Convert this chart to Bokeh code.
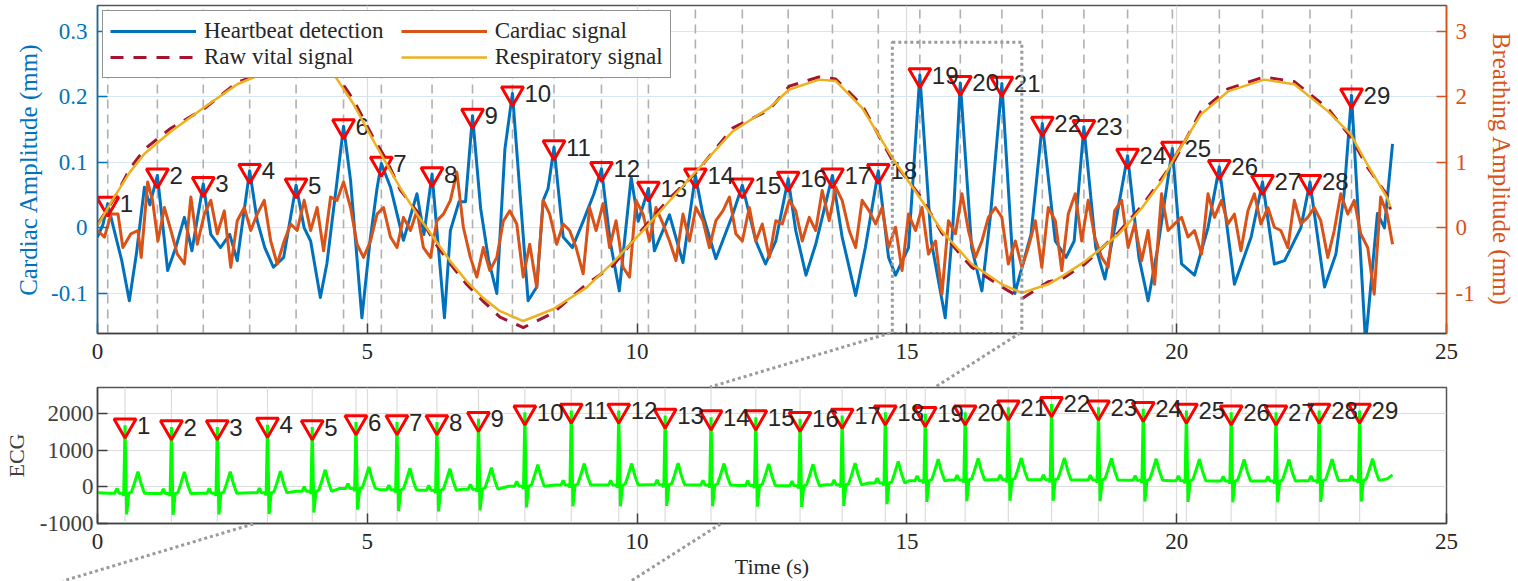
import numpy as np
from bokeh.plotting import figure
from bokeh.models import Range1d, LinearAxis, FixedTicker, Legend, LegendItem, Div
from bokeh.layouts import column
from bokeh.embed import file_html
from bokeh.resources import INLINE
from bokeh.core.properties import value

# ------------------------------------------------------------------ data
x_ticks = [0, 5, 10, 15, 20, 25]
card_ticks = [-0.1, 0, 0.1, 0.2, 0.3]
breath_ticks = [-1, 0, 1, 2, 3]
ecg_ticks = [-1000, 0, 1000, 2000]

# heartbeat detection (blue, left axis, mm)
hb_t = [0.00, 0.10, 0.19, 0.31, 0.45, 0.59, 0.72, 0.87, 0.97, 1.11, 1.30, 1.45, 1.61, 1.75,
        1.96, 2.10, 2.28, 2.45, 2.59, 2.82, 2.96, 3.10, 3.26, 3.45, 3.68, 3.83, 3.95, 4.13,
        4.25, 4.44, 4.56, 4.69, 4.90, 5.05, 5.18, 5.26, 5.43, 5.67, 5.92, 6.05, 6.20, 6.43,
        6.54, 6.70, 6.82, 6.95, 7.10, 7.25, 7.40, 7.55, 7.69, 7.98, 8.14, 8.26, 8.35, 8.46,
        8.63, 8.80, 9.00, 9.20, 9.34, 9.50, 9.67, 9.89, 10.02, 10.21, 10.32, 10.60, 10.85,
        11.08, 11.22, 11.46, 11.77, 11.95, 12.20, 12.38, 12.57, 12.80, 12.94, 13.13, 13.31,
        13.62, 13.80, 14.05, 14.23, 14.47, 14.66, 14.79, 15.03, 15.24, 15.45, 15.71, 15.85,
        15.99, 16.20, 16.39, 16.55, 16.76, 17.00, 17.30, 17.51, 17.75, 17.95, 18.10, 18.28,
        18.50, 18.67, 18.85, 19.09, 19.30, 19.47, 19.65, 19.92, 20.09, 20.33, 20.58, 20.79,
        21.07, 21.38, 21.59, 21.81, 22.00, 22.30, 22.47, 22.74, 22.95, 23.10, 23.24, 23.50,
        23.72, 23.85, 24.00]
hb_v = [-0.014, 0.005, 0.037, -0.004, -0.050, -0.111, -0.040, 0.062, 0.035, 0.080, -0.065,
        -0.030, 0.016, -0.035, 0.067, -0.010, -0.030, -0.010, -0.050, 0.087, 0.011, -0.030,
        -0.060, -0.045, 0.065, 0.000, -0.020, -0.106, -0.055, 0.072, 0.155, 0.072, -0.137,
        -0.020, 0.060, 0.098, 0.062, -0.019, 0.052, -0.010, 0.082, -0.137, -0.004, 0.040,
        0.040, 0.171, 0.030, -0.050, -0.100, 0.120, 0.205, -0.111, -0.090, 0.042, 0.060,
        0.123, -0.014, -0.030, 0.010, 0.052, 0.090, -0.020, -0.096, 0.077, 0.010, 0.060,
        -0.035, 0.020, -0.053, 0.080, 0.020, -0.047, 0.020, 0.065, -0.020, -0.055, -0.020,
        0.075, -0.004, -0.072, -0.025, 0.080, -0.014, -0.103, -0.030, 0.087, -0.045, -0.072,
        -0.030, 0.233, -0.020, -0.137, 0.000, 0.221, -0.030, -0.096, 0.020, 0.220, -0.100,
        -0.010, 0.159, -0.020, -0.045, -0.020, 0.154, -0.030, -0.078, 0.000, 0.110, -0.045,
        -0.111, -0.030, 0.121, -0.055, -0.072, 0.000, 0.093, -0.086, -0.014, 0.070, -0.055,
        -0.050, 0.000, 0.070, -0.090, -0.040, 0.050, 0.202, -0.175, 0.022, 0.000, 0.128]

# cardiac signal (orange, left axis, mm)
card_t = [0.00, 0.13, 0.25, 0.38, 0.47, 0.62, 0.75, 0.81, 0.93, 1.02, 1.12, 1.24, 1.36, 1.48,
          1.61, 1.73, 1.85, 1.98, 2.10, 2.22, 2.35, 2.47, 2.59, 2.72, 2.84, 2.96, 3.09, 3.21,
          3.33, 3.46, 3.58, 3.70, 3.83, 3.95, 4.07, 4.19, 4.32, 4.44, 4.56, 4.69, 4.81, 4.93,
          5.06, 5.18, 5.30, 5.43, 5.55, 5.67, 5.80, 5.92, 6.04, 6.17, 6.29, 6.41, 6.54, 6.66,
          6.78, 6.91, 7.03, 7.15, 7.27, 7.40,
          7.52, 7.64, 7.77, 7.89, 8.01, 8.14, 8.26, 8.38, 8.51, 8.63, 8.75, 8.87, 9.00, 9.12,
          9.24, 9.37, 9.49, 9.61, 9.74, 9.86, 9.98, 10.11, 10.23, 10.35, 10.48, 10.60, 10.72,
          10.85, 10.97, 11.09, 11.22, 11.34, 11.46, 11.59, 11.71, 11.83, 11.95, 12.08, 12.20,
          12.32, 12.45, 12.57, 12.69, 12.82, 12.94, 13.06, 13.19, 13.31, 13.43, 13.56, 13.68,
          13.80, 13.93, 14.05, 14.17, 14.30, 14.42, 14.54, 14.66, 14.79, 14.91, 15.03, 15.16,
          15.28, 15.40, 15.53, 15.65, 15.77, 15.90, 16.02, 16.14, 16.27, 16.39, 16.51, 16.64,
          16.76,
          16.88, 17.01, 17.13, 17.25, 17.38, 17.50, 17.62, 17.75, 17.87, 17.99, 18.12, 18.24,
          18.36, 18.48, 18.61, 18.73, 18.85, 18.98, 19.10, 19.22, 19.35, 19.47, 19.59, 19.72,
          19.84, 19.96, 20.09, 20.21, 20.33, 20.46, 20.58, 20.70, 20.83, 20.95, 21.07, 21.19,
          21.32, 21.44, 21.56, 21.69, 21.81, 21.93, 22.06, 22.18, 22.30, 22.43, 22.55, 22.67,
          22.80, 22.92, 23.04, 23.17, 23.29, 23.41, 23.54, 23.66, 23.78, 23.90, 24.00]
card_v = [-0.004, -0.014, 0.021, 0.021, -0.030, -0.009, -0.004, -0.045, 0.070, 0.042, -0.020,
          0.031, -0.004, -0.040, -0.055, 0.047, -0.025, 0.021, 0.042, -0.009, 0.026, -0.060,
          0.011, 0.031, -0.004, 0.021, 0.042, -0.020, -0.055, -0.020, 0.006, -0.004, 0.042,
          -0.004, 0.031, -0.035, 0.047, 0.042, 0.070, 0.031, -0.025, -0.045, -0.020, 0.021,
          0.031, -0.014, -0.030, 0.016, -0.004, 0.026, -0.030, -0.045, 0.011, 0.021, 0.042,
          0.085, 0.001, -0.045, -0.075, -0.030, -0.065, -0.045,
          0.010, 0.026, 0.006, -0.075, -0.025, -0.091, 0.042, 0.021, -0.025, 0.006, -0.004,
          -0.030, -0.070, 0.031, -0.004, 0.037, -0.030, 0.011, -0.060, -0.075, 0.042, 0.021,
          -0.020, 0.031, 0.006, -0.020, -0.050, 0.021, -0.020, 0.031, 0.011, -0.030, 0.011,
          0.026, 0.047, -0.009, -0.020, 0.031, -0.020, 0.006, -0.045, 0.011, 0.006, 0.042,
          0.026, -0.020, 0.016, -0.004, 0.057, 0.011, 0.062, 0.042, -0.004, -0.030, 0.042,
          0.026, 0.006, 0.031, -0.030, 0.001, -0.065, 0.021, -0.004, 0.031, -0.040, -0.020,
          -0.101, 0.011, -0.009, 0.052, -0.004, -0.045, -0.020, 0.016, 0.031, 0.016,
          -0.055, -0.020, -0.060, -0.030, 0.011, -0.060, 0.031, 0.011, -0.065, 0.021, 0.052,
          -0.020, 0.042, -0.014, -0.045, -0.060, 0.026, 0.042, -0.030, 0.006, -0.050, -0.004,
          -0.086, 0.052, -0.004, 0.006, 0.016, -0.014, -0.004, -0.040, 0.052, 0.016, 0.042,
          0.006, 0.021, -0.035, 0.026, 0.052, 0.006, 0.031, 0.001, -0.004, -0.030, 0.042,
          0.006, 0.016, 0.031, 0.011, -0.045, -0.004, 0.052, 0.021, 0.042, -0.009, -0.030,
          -0.101, 0.047, 0.021, -0.025]

# respiratory (yellow) and raw vital (dashed dark red) signals, right axis, mm
resp_t = [0.00, 0.31, 0.60, 0.87, 1.36, 1.98, 2.59, 3.09, 3.60, 4.00, 4.38, 4.75, 5.12, 5.36,
          5.61, 5.92, 6.23, 6.54, 6.84, 7.15, 7.46, 7.89, 8.44, 9.06, 9.55, 10.10, 10.60, 11.09,
          11.77, 12.45, 12.82, 13.37, 13.68, 14.17, 14.73, 15.28, 15.65, 16.20, 16.76, 17.13,
          17.62, 17.87, 18.30, 18.92, 19.35, 19.72, 19.96, 20.45, 20.95, 21.62, 22.18, 22.80,
          23.23, 23.53, 23.90, 23.96]
resp_v = [0.03, 0.47, 0.85, 1.13, 1.47, 1.84, 2.19, 2.36, 2.48, 2.47, 2.34, 1.88, 1.32, 0.97,
          0.61, 0.21, -0.15, -0.51, -0.81, -1.07, -1.27, -1.42, -1.24, -0.91, -0.53, -0.05,
          0.41, 0.86, 1.47, 1.83, 2.11, 2.26, 2.24, 1.83, 1.07, 0.41, -0.05, -0.55, -0.86,
          -0.99, -0.86, -0.74, -0.51, -0.10, 0.30, 0.71, 1.07, 1.73, 2.08, 2.26, 2.19, 1.78,
          1.42, 0.97, 0.46, 0.32]
raw_v = [0.05, 0.45, 0.90, 1.20, 1.52, 1.82, 2.22, 2.36, 2.50, 2.46, 2.40, 1.94, 1.36, 1.03,
         0.58, 0.25, -0.20, -0.55, -0.86, -1.12, -1.36, -1.52, -1.30, -0.86, -0.58, -0.02,
         0.45, 0.84, 1.52, 1.80, 2.16, 2.30, 2.27, 1.87, 1.03, 0.45, -0.08, -0.60, -0.90,
         -1.08, -0.82, -0.78, -0.55, -0.07, 0.33, 0.75, 1.03, 1.78, 2.12, 2.30, 2.23, 1.82,
         1.38, 0.93, 0.50, 0.28]

# detected heartbeat peaks (top)
peak_t = [0.19, 1.11, 1.96, 2.82, 3.68, 4.56, 5.26, 6.20, 6.95, 7.69, 8.46, 9.34, 10.21, 11.08,
          11.95, 12.80, 13.62, 14.47, 15.24, 15.99, 16.76, 17.51, 18.28, 19.09, 19.92, 20.79,
          21.59, 22.47, 23.24]
peak_v = [0.037, 0.080, 0.067, 0.087, 0.065, 0.155, 0.098, 0.082, 0.171, 0.205, 0.123, 0.090,
          0.060, 0.080, 0.065, 0.075, 0.080, 0.087, 0.233, 0.221, 0.220, 0.159, 0.154, 0.110,
          0.121, 0.093, 0.070, 0.070, 0.202]
peak_labels = [str(i + 1) for i in range(29)]

# ECG R peaks (bottom)
ecg_peak_t = [0.51, 1.37, 2.22, 3.15, 3.98, 4.79, 5.55, 6.29, 7.06, 7.92, 8.78, 9.66, 10.52,
              11.37, 12.20, 13.02, 13.80, 14.60, 15.34, 16.08, 16.88, 17.68, 18.55, 19.38,
              20.18, 21.01, 21.84, 22.64, 23.39]
ecg_peak_v = [1684, 1638, 1638, 1703, 1638, 1773, 1773, 1773, 1865, 2043, 2089, 2089, 1954,
              1908, 1908, 1865, 1954, 2043, 2000, 2043, 2180, 2270, 2180, 2135, 2089, 2043,
              2043, 2089, 2089]
ecg_base = [-170, -180, -170, -160, -120, -40, -80, -90, -60, 20, 50, 50, 60, 50, 40, 30, 60,
            110, 170, 190, 200, 200, 190, 180, 170, 160, 160, 170, 180]
# one beat of the ECG: offset from R peak (s), level above baseline
ecg_shape_dt = [-0.30, -0.19, -0.15, -0.11, -0.05, -0.025, 0.0, 0.03, 0.07, 0.12, 0.17, 0.24,
                0.30, 0.36]
ecg_shape_rel = [0, 0, 130, 0, 0, -70, None, -580, 0, 30, 250, 590, 250, 0]
ecg_head = [(0.0, -160)]
ecg_tail = [(23.90, 220), (24.00, 330)]

zoom_window = (14.73, 17.13, 0.283)   # dotted box: t0, t1, top (mm)

# ------------------------------------------------------------------ style
BLUE, ORANGE, YELLOW, DRED = "#0072BD", "#D95319", "#EDB120", "#A2142F"
GREEN, RED, DARK = "#00FF00", "#FF0000", "#262626"
SERIF, SANS = "Liberation Serif", "Liberation Sans"
DOT_GREY = "#9a9a9a"

W = 1518
H1, H2 = 375, 206
L, R = 93, 72
T1, B1 = 5, 42
T2, B2 = 12, 57
FW = W - L - R
X_RANGE = (0, 25)
CARD_RANGE = (-0.161, 0.339)
BREATH_RANGE = (-1.61, 3.39)
ECG_RANGE = (-1000, 2720)


def style_axis(ax, color, label, label_size, label_color, ticks, overrides=None):
    ax.ticker = FixedTicker(ticks=ticks)
    if overrides:
        ax.major_label_overrides = overrides
    ax.axis_label = label
    ax.axis_label_text_font = SERIF
    ax.axis_label_text_font_style = "normal"
    ax.axis_label_text_font_size = label_size
    ax.axis_label_text_color = label_color
    ax.major_label_text_font = SERIF
    ax.major_label_text_font_size = "23px"
    ax.major_label_text_color = label_color
    ax.axis_line_color = color
    ax.axis_line_width = 1.5
    ax.major_tick_line_color = color
    ax.major_tick_line_width = 1.5
    ax.major_tick_in = 10
    ax.major_tick_out = 0
    ax.minor_tick_line_color = None


def make_fig(h, top, bottom, y_range):
    p = figure(width=W, height=h, x_range=Range1d(*X_RANGE), y_range=Range1d(*y_range),
               output_backend="svg", toolbar_location=None,
               min_border_left=L, min_border_right=R, min_border_top=top,
               min_border_bottom=bottom)
    p.outline_line_color = "#555555"
    p.outline_line_width = 1.5
    p.background_fill_color = "white"
    p.border_fill_color = "white"
    return p


def canvas_x(t):
    return L + (t - X_RANGE[0]) / (X_RANGE[1] - X_RANGE[0]) * FW


# ------------------------------------------------------------------ top plot
p1 = make_fig(H1, T1, B1, CARD_RANGE)
p1.extra_y_ranges = {"breath": Range1d(*BREATH_RANGE)}

p1.xgrid.ticker = FixedTicker(ticks=x_ticks)
p1.xgrid.grid_line_color = "#dcdcdc"
p1.xgrid.grid_line_width = 1.2
p1.ygrid.ticker = FixedTicker(ticks=card_ticks)
p1.ygrid.grid_line_color = "#d6e7f4"
p1.ygrid.grid_line_width = 1.2

p1.segment(x0=peak_t, x1=peak_t, y0=CARD_RANGE[0], y1=CARD_RANGE[1],
           line_color="#b0b0b0", line_width=1.6, line_dash="9 6")

r_hb = p1.line(hb_t, hb_v, line_color=BLUE, line_width=3, line_join="round")
r_card = p1.line(card_t, card_v, line_color=ORANGE, line_width=3, line_join="round")
p1.scatter(peak_t, peak_v, marker="inverted_triangle", size=22, line_color=RED,
           line_width=3, fill_alpha=0)
p1.text(x=peak_t, y=peak_v, text=peak_labels, x_offset=12, text_baseline="middle",
        text_align="left", text_font=value(SANS), text_font_size="24px", text_color=DARK)
r_raw = p1.line(resp_t, raw_v, y_range_name="breath", line_color=DRED, line_width=3,
                line_dash="13 10")
r_resp = p1.line(resp_t, resp_v, y_range_name="breath", line_color=YELLOW, line_width=2.5,
                 line_join="round")

# dotted zoom box
z0, z1, ztop = zoom_window
p1.quad(left=z0, right=z1, bottom=CARD_RANGE[0], top=ztop, fill_alpha=0,
        line_color=DOT_GREY, line_width=3, line_dash="3 3")

style_axis(p1.xaxis[0], "#404040", "", "23px", DARK, x_ticks)
p1.xaxis[0].major_label_standoff = 10
style_axis(p1.yaxis[0], BLUE, "Cardiac Amplitude (mm)", "25px", BLUE, card_ticks,
           {-0.1: "-0.1", 0: "0", 0.1: "0.1", 0.2: "0.2", 0.3: "0.3"})
p1.yaxis[0].major_label_standoff = 10
p1.yaxis[0].axis_label_standoff = 6
ax_r = LinearAxis(y_range_name="breath")
style_axis(ax_r, ORANGE, "Breathing Amplitude (mm)", "25px", ORANGE, breath_ticks,
           {-1: "-1", 0: "0", 1: "1", 2: "2", 3: "3"})
ax_r.major_label_standoff = 9
ax_r.axis_label_standoff = 10
p1.add_layout(ax_r, "right")

legend = Legend(items=[LegendItem(label="Heartbeat detection   ", renderers=[r_hb]),
                       LegendItem(label="Cardiac signal", renderers=[r_card]),
                       LegendItem(label="Raw vital signal", renderers=[r_raw]),
                       LegendItem(label="Respiratory signal", renderers=[r_resp])],
                location="top_left", orientation="horizontal", ncols=2)
legend.label_text_font = SERIF
legend.label_text_font_size = "23px"
legend.label_text_color = DARK
legend.glyph_width = 86
legend.glyph_height = 22
legend.label_standoff = 8
legend.padding = 7
legend.spacing = 0
legend.margin = 5
legend.border_line_color = DARK
legend.border_line_width = 1.5
legend.background_fill_alpha = 1
p1.add_layout(legend)

# ------------------------------------------------------------------ bottom plot
ecg_t = [a for a, _ in ecg_head]
ecg_v = [b for _, b in ecg_head]
for tp, vp, base in zip(ecg_peak_t, ecg_peak_v, ecg_base):
    for dt, rel in zip(ecg_shape_dt, ecg_shape_rel):
        ecg_t.append(tp + dt)
        ecg_v.append(vp if rel is None else base + rel)
ecg_t += [a for a, _ in ecg_tail]
ecg_v += [b for _, b in ecg_tail]

p2 = make_fig(H2, T2, B2, ECG_RANGE)
p2.xgrid.ticker = FixedTicker(ticks=x_ticks)
p2.xgrid.grid_line_color = "#dcdcdc"
p2.xgrid.grid_line_width = 1.2
p2.ygrid.ticker = FixedTicker(ticks=ecg_ticks)
p2.ygrid.grid_line_color = "#dcdcdc"
p2.ygrid.grid_line_width = 1.2
p2.segment(x0=ecg_peak_t, x1=ecg_peak_t, y0=ECG_RANGE[0], y1=ECG_RANGE[1],
           line_color="#dcdcdc", line_width=1.2)
p2.line(ecg_t, ecg_v, line_color=GREEN, line_width=3)
p2.scatter(ecg_peak_t, ecg_peak_v, marker="inverted_triangle", size=22, line_color=RED,
           line_width=3, fill_alpha=0)
p2.text(x=ecg_peak_t, y=ecg_peak_v, text=peak_labels, x_offset=12, text_baseline="middle",
        text_align="left", text_font=value(SANS), text_font_size="24px", text_color=DARK)

style_axis(p2.xaxis[0], "#404040", "Time (s)", "22px", DARK, x_ticks)
p2.xaxis[0].major_label_standoff = 10
p2.xaxis[0].axis_label_standoff = 2
style_axis(p2.yaxis[0], "#404040", "ECG", "22px", "#404040", ecg_ticks,
           {-1000: "-1000", 0: "0", 1000: "1000", 2000: "2000"})
p2.yaxis[0].major_label_standoff = 4
p2.yaxis[0].axis_label_standoff = 8

# ------------------------------------------------------------------ zoom connectors
# straight dotted lines from the zoom box's lower corners towards the lower left of the
# page; they pass behind the ECG axes, so only the parts outside that frame are drawn.
ends = [(z0, 63.0), (z1, 631.0)]
y_box = T1 + (H1 - T1 - B1)
y_page = H1 + H2


def x_at(x_a, x_b, y):
    return x_a + (x_b - x_a) * (y - y_box) / (y_page - y_box)


pieces = []
for t, xe in ends:
    xa = canvas_x(t)
    for ya, yb in ((y_box, H1 + T2), (H1 + H2 - B2, y_page)):
        pieces.append('<line x1="%.1f" y1="%.1f" x2="%.1f" y2="%.1f"/>'
                      % (x_at(xa, xe, ya), ya, x_at(xa, xe, yb), yb))
svg = ('<svg xmlns="http://www.w3.org/2000/svg" width="%d" height="%d" '
       'style="position:absolute;left:0;top:0;display:block;overflow:visible">'
       '<g stroke="%s" stroke-width="3" stroke-dasharray="3 3" fill="none">%s</g></svg>'
       % (W, y_page, DOT_GREY, "".join(pieces)))
overlay = Div(text=svg, width=W, height=y_page,
              styles={"position": "absolute", "left": "0px", "top": "0px",
                      "pointer-events": "none", "z-index": "10",
                      "margin": "0", "padding": "0"})

layout = column(p1, p2, overlay, spacing=0)
open("out.html", "w").write(file_html(layout, INLINE))
